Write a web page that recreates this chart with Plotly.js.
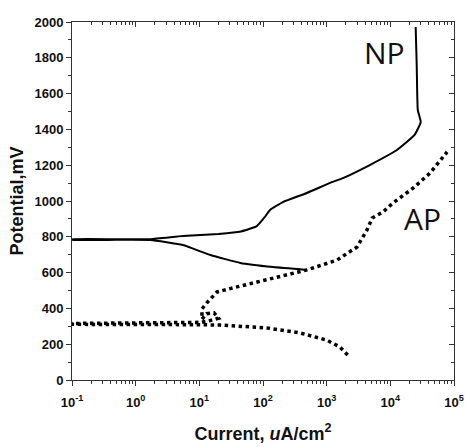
<!DOCTYPE html>
<html>
<head>
<meta charset="utf-8">
<script src="https://cdn.plot.ly/plotly-3.0.1.min.js"></script>
<style>html,body{margin:0;padding:0;background:#fff;}#chart{width:465px;height:447px;}</style>
</head>
<body>
<div id="chart"></div>
<script>
// NP curve (solid): current (uA/cm^2) and potential (mV)
const npCurrent = [490, 145, 44, 15, 5.5, 1.7, 0.5, 0.1, 0.1, 0.5, 1.7, 5.5, 20, 45, 80, 107, 129, 206, 490, 1130, 1800, 4750, 12700, 24000, 30000, 27000, 26000, 25000];
const npPotential = [615, 631, 654, 698, 754, 782, 783, 783, 786, 786, 787, 804, 816, 830, 860, 911, 950, 994, 1045, 1101, 1128, 1201, 1285, 1369, 1441, 1508, 1749, 1972];

// AP curve (dotted)
const apCurrent = [2140, 1620, 1000, 380, 115, 21, 10, 1, 0.1, 0.1, 1, 10, 14, 20, 17, 13, 11, 11, 13, 19, 39, 115, 490, 1450, 3000, 4300, 5200, 7700, 11000, 23000, 42000, 78000];
const apPotential = [140, 184, 223, 263, 291, 307, 309, 310, 311, 316, 318, 322, 330, 345, 375, 370, 340, 397, 430, 492, 520, 559, 615, 670, 743, 838, 905, 939, 989, 1073, 1156, 1274];

const xTickVals = [0.1, 1, 10, 100, 1000, 10000, 100000];
const xTickText = ['<b>10<sup>-1</sup></b>', '<b>10<sup>0</sup></b>', '<b>10<sup>1</sup></b>', '<b>10<sup>2</sup></b>', '<b>10<sup>3</sup></b>', '<b>10<sup>4</sup></b>', '<b>10<sup>5</sup></b>'];
const yTickVals = [0, 200, 400, 600, 800, 1000, 1200, 1400, 1600, 1800, 2000];
const yTickText = yTickVals.map(v => '<b>' + v + '</b>');

const labels = [
  {text: 'NP', x: 8000, y: 1827},
  {text: 'AP', x: 32000, y: 905}
];

const axisColor = '#333';
const fontFam = 'Liberation Sans, Arial, sans-serif';
const tickFont = {family: fontFam, size: 13, color: '#111'};

const traces = [
  {x: npCurrent, y: npPotential, mode: 'lines', line: {color: '#000', width: 2, shape: 'spline', smoothing: 0.4}, xaxis: 'x', yaxis: 'y', hoverinfo: 'skip'},
  {x: apCurrent, y: apPotential, mode: 'lines', line: {color: '#000', width: 3.5, dash: 'dot'}, xaxis: 'x', yaxis: 'y', hoverinfo: 'skip'},
  {x: [], y: [], mode: 'lines', xaxis: 'x2', yaxis: 'y2', hoverinfo: 'skip', showlegend: false}
];

const layout = {
  width: 465, height: 447,
  margin: {l: 72, r: 11, t: 22, b: 67},
  paper_bgcolor: '#fff', plot_bgcolor: '#fff',
  showlegend: false,
  xaxis: {
    type: 'log', range: [-1, 5],
    tickvals: xTickVals, ticktext: xTickText,
    ticks: 'outside', ticklen: 5, tickwidth: 1, tickcolor: axisColor,
    ticklabelstandoff: 5,
    minor: {ticks: 'outside', ticklen: 3, tickcolor: axisColor, dtick: 'D1'},
    showline: true, linecolor: axisColor, linewidth: 1,
    showgrid: false, zeroline: false,
    tickfont: tickFont,
    title: {text: 'Current, <i>u</i>A/cm<sup>2</sup>', font: {family: fontFam, size: 18, color: '#111', weight: 600}, standoff: 18}
  },
  yaxis: {
    range: [0, 2000],
    tickvals: yTickVals, ticktext: yTickText,
    ticks: 'outside', ticklen: 5, tickwidth: 1, tickcolor: axisColor,
    minor: {ticks: 'outside', ticklen: 3, tickcolor: axisColor, dtick: 100},
    showline: true, linecolor: axisColor, linewidth: 1,
    showgrid: false, zeroline: false,
    tickfont: tickFont,
    title: {text: '<b>Potential,mV</b>', font: {family: fontFam, size: 18, color: '#111'}, standoff: 6}
  },
  xaxis2: {
    type: 'log', range: [-1, 5], overlaying: 'x', side: 'top', anchor: 'y2',
    tickvals: xTickVals, showticklabels: false,
    ticks: 'inside', ticklen: 5, tickcolor: axisColor,
    minor: {ticks: 'inside', ticklen: 3, tickcolor: axisColor, dtick: 'D1'},
    showline: true, linecolor: axisColor, linewidth: 1, showgrid: false, zeroline: false
  },
  yaxis2: {
    range: [0, 2000], overlaying: 'y', side: 'right', anchor: 'x2',
    tickvals: yTickVals, showticklabels: false,
    ticks: 'inside', ticklen: 5, tickcolor: axisColor,
    minor: {ticks: 'inside', ticklen: 3, tickcolor: axisColor, dtick: 100},
    showline: true, linecolor: axisColor, linewidth: 1, showgrid: false, zeroline: false
  },
  annotations: labels.map(l => ({
    text: l.text, x: Math.log10(l.x), y: l.y, xref: 'x', yref: 'y',
    showarrow: false, font: {family: 'Open Sans, Noto Sans, sans-serif', size: 30, color: '#111'}
  }))
};

Plotly.newPlot('chart', traces, layout, {displayModeBar: false, staticPlot: true});
</script>
</body>
</html>
